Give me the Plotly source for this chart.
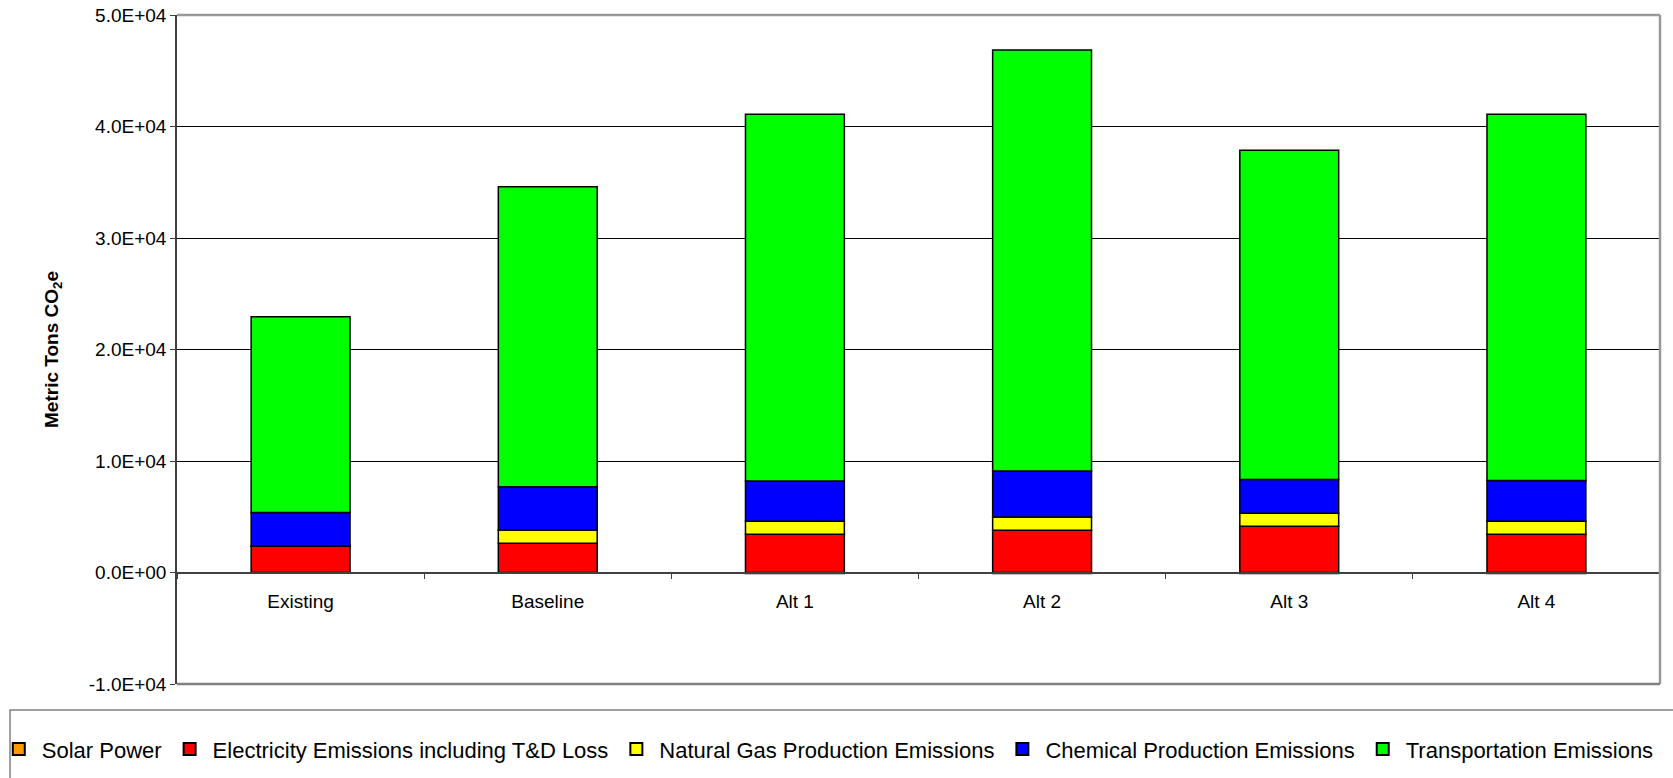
import plotly.graph_objects as go

categories = ["Existing", "Baseline", "Alt 1", "Alt 2", "Alt 3", "Alt 4"]
solar = [0, 0, -80, -80, -80, -80]
electricity = [2350, 2620, 3430, 3790, 4150, 3430]
natural_gas = [30, 1190, 1160, 1190, 1160, 1160]
chemical = [3000, 3890, 3610, 4120, 3040, 3650]
transportation = [17550, 26900, 32900, 37750, 29510, 32860]

series_names = ["Solar Power", "Electricity Emissions including T&D Loss",
                "Natural Gas Production Emissions", "Chemical Production Emissions",
                "Transportation Emissions"]
series_values = [solar, electricity, natural_gas, chemical, transportation]
series_colors = ["#FF9900", "#FF0000", "#FFFF00", "#0000FF", "#00FF00"]

y_tickvals = [-10000, 0, 10000, 20000, 30000, 40000, 50000]
y_ticktext = ["-1.0E+04", "0.0E+00", "1.0E+04", "2.0E+04", "3.0E+04", "4.0E+04", "5.0E+04"]

fig = go.Figure()
for name, vals, col in zip(series_names, series_values, series_colors):
    fig.add_trace(go.Bar(x=categories, y=vals, name=name,
                         marker=dict(color=col, line=dict(color="black", width=1.5))))

font_family = "Liberation Sans, Arial, sans-serif"
fig.update_layout(
    barmode="relative",
    bargap=0.6,
    width=1673, height=778,
    margin=dict(l=177, r=13, t=15, b=94, autoexpand=False),
    paper_bgcolor="white", plot_bgcolor="white",
    font=dict(family=font_family, size=19, color="black"),
    showlegend=True,
    legend=dict(orientation="h", x=-0.1222, xanchor="left", y=-0.066, yanchor="top",
                borderwidth=0, font=dict(size=22), bgcolor="rgba(0,0,0,0)",
                traceorder="normal", itemsizing="constant", itemwidth=36),
    xaxis=dict(anchor="free", position=1/6, showline=True, linecolor="#404040", linewidth=1.5,
               ticks="outside", tickson="boundaries", ticklen=6, tickcolor="#404040",
               showgrid=False, tickfont=dict(size=19), ticklabelstandoff=12, range=[-0.5, 5.5]),
    yaxis=dict(range=[-10000, 50000], tickvals=y_tickvals, ticktext=y_ticktext,
               showgrid=True, gridcolor="black", gridwidth=1, zeroline=False,
               showline=True, linecolor="#404040", linewidth=1.5,
               ticks="outside", ticklen=5, tickcolor="#404040",
               tickfont=dict(size=19),
               title=dict(text="<b>Metric Tons CO<sub>2</sub>e</b>", font=dict(size=19), standoff=25)),
    shapes=[
        dict(type="line", xref="paper", yref="paper", x0=0, x1=1, y0=1, y1=1,
             line=dict(color="#999999", width=2.5)),
        dict(type="line", xref="paper", yref="paper", x0=1, x1=1, y0=0, y1=1,
             line=dict(color="#999999", width=2.5)),
        dict(type="line", xref="paper", yref="paper", x0=0, x1=1, y0=0, y1=0,
             line=dict(color="#808080", width=2.5)),
        dict(type="rect", xref="paper", yref="paper", x0=-0.1126, x1=1.05, y0=-0.0389, y1=-0.3,
             line=dict(color="#808080", width=1.5), fillcolor="rgba(0,0,0,0)", layer="below"),
    ],
)

fig.write_html("out.html")
